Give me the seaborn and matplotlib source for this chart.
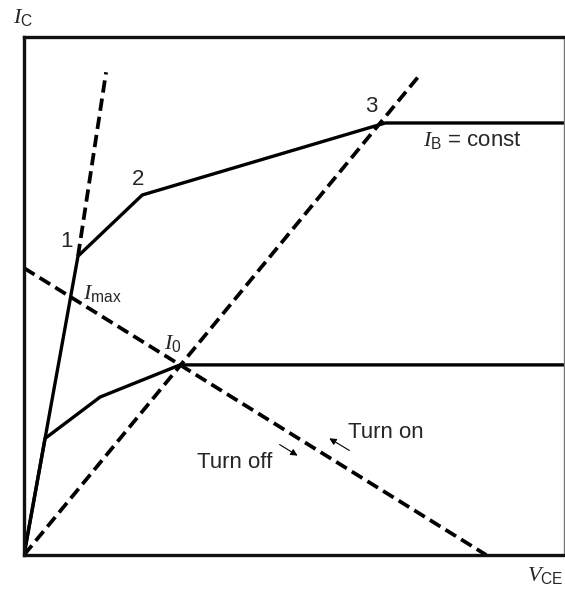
import matplotlib
matplotlib.use("Agg")
import matplotlib.pyplot as plt
import seaborn as sns
import pandas as pd

sns.set_theme(style="white")
plt.rcParams["font.family"] = ["Liberation Sans", "DejaVu Sans"]
plt.rcParams["mathtext.fontset"] = "custom"
plt.rcParams["mathtext.it"] = "Liberation Serif:italic"
plt.rcParams["mathtext.rm"] = "Liberation Sans"
plt.rcParams["mathtext.default"] = "it"

# Output characteristic, high base current (points 1, 2, 3)
v_high = [0, 10.0, 21.9, 66.9, 100]
i_high = [0, 57.7, 69.5, 83.4, 83.4]
# Output characteristic, low base current (through I0)
v_low = [0, 3.9, 14.1, 28.9, 100]
i_low = [0, 22.5, 30.5, 36.7, 36.7]
# Dashed guide lines
v_sat = [10.0, 15.2]
i_sat = [57.7, 93.2]
v_diag = [0, 73.0]
i_diag = [0, 92.3]
v_load = [0, 85.6]
i_load = [55.4, 0]

fig = plt.figure(figsize=(5.65, 5.92), dpi=100)
ax = fig.add_axes([24 / 565, 1 - 555 / 592, 540 / 565, 518 / 592])

solid = dict(color="black", linewidth=2.4, sort=False, estimator=None, ax=ax)
dashed = dict(color="black", linewidth=2.7, sort=False, estimator=None, ax=ax,
              dashes=False)

sns.lineplot(data=pd.DataFrame({"v": v_high, "i": i_high}), x="v", y="i", **solid)
sns.lineplot(data=pd.DataFrame({"v": v_low, "i": i_low}), x="v", y="i", **solid)
for vv, ii in [(v_sat, i_sat), (v_diag, i_diag), (v_load, i_load)]:
    sns.lineplot(data=pd.DataFrame({"v": vv, "i": ii}), x="v", y="i", **dashed)
    ax.lines[-1].set_linestyle((0, (3.3, 1.6)))

ax.set_xlim(0, 100)
ax.set_ylim(0, 100)
ax.set_xticks([])
ax.set_yticks([])
ax.set_xlabel("")
ax.set_ylabel("")
for side in ["left", "top", "bottom"]:
    ax.spines[side].set_linewidth(2.4)
    ax.spines[side].set_color("#111111")
ax.spines["right"].set_linewidth(1.0)
ax.spines["right"].set_color("#777777")

fs = 16
ax.text(7.8, 60.6, "1", fontsize=fs, ha="center", va="center")
ax.text(21.1, 72.4, "2", fontsize=fs, ha="center", va="center")
ax.text(64.4, 86.5, "3", fontsize=fs, ha="center", va="center")
ax.text(73.9, 80.1, r"$I_{\mathrm{B}}$ = const", fontsize=fs, ha="left", va="center")
ax.text(11.0, 50.5, r"$I_{\mathrm{max}}$", fontsize=fs, ha="left", va="center")
ax.text(26.0, 40.9, r"$I_{\mathrm{0}}$", fontsize=fs, ha="left", va="center")
ax.text(60.0, 23.6, "Turn on", fontsize=fs, ha="left", va="center")
ax.text(32.0, 17.9, "Turn off", fontsize=fs, ha="left", va="center")

arrow = dict(arrowstyle="-|>", color="black", lw=0.8, mutation_scale=10)
ax.annotate("", xy=(51.1, 18.9), xytext=(46.9, 21.6), arrowprops=arrow)
ax.annotate("", xy=(56.1, 22.8), xytext=(60.7, 19.9), arrowprops=arrow)

fig.text(13 / 565, 1 - 17 / 592, r"$I_{\mathrm{C}}$", fontsize=fs, ha="left", va="center")
fig.text(527 / 565, 1 - 575 / 592, r"$V_{\mathrm{CE}}$", fontsize=fs, ha="left", va="center")

fig.savefig("out.png", dpi=100, facecolor="white")
